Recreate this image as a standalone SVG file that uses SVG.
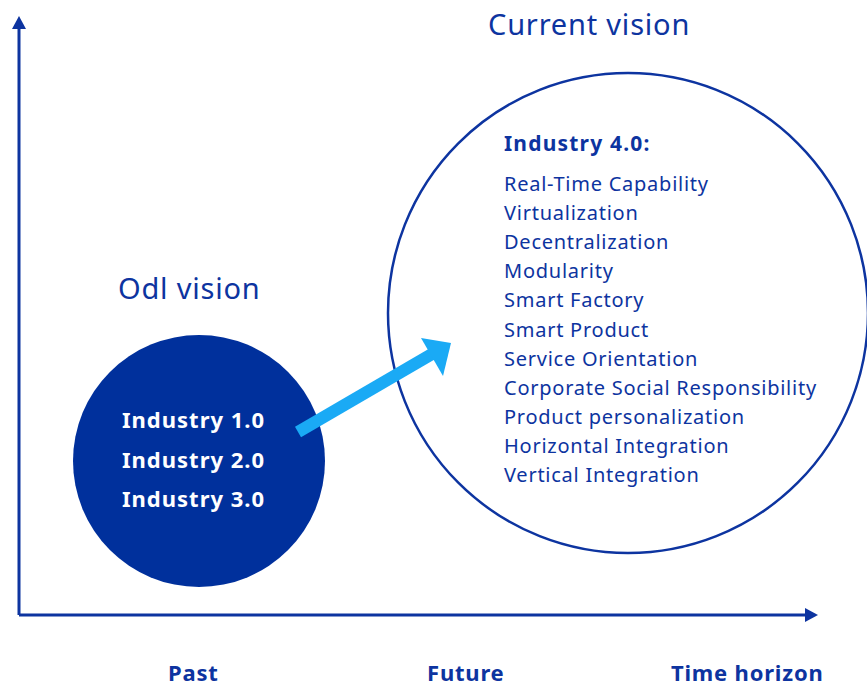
<svg xmlns="http://www.w3.org/2000/svg" width="867" height="686" viewBox="0 0 867 686">
<defs>
<style>
.t{font-family:"Noto Sans","Open Sans",sans-serif;fill:#0d34a0}
.h{font-size:29px;letter-spacing:0.8px}
.b{font-weight:bold}
.li{font-size:20px;letter-spacing:0.75px}
.w{fill:#ffffff;font-size:22px;font-weight:bold;letter-spacing:1px}
.bl{font-size:22px;font-weight:bold;letter-spacing:0.8px}
.ax{stroke:#0d34a0;stroke-width:3;fill:none}
</style>
</defs>
<rect width="867" height="686" fill="#ffffff"/>
<g id="old">
<circle cx="199" cy="461" r="126" fill="#00309c"/>
<text class="t w" x="122" y="428">Industry 1.0</text>
<text class="t w" x="122" y="468">Industry 2.0</text>
<text class="t w" x="122" y="507">Industry 3.0</text>
</g>
<g id="old-label"><text class="t h" x="118" y="299">Odl vision</text></g>
<g id="current-label"><text class="t h" x="488" y="35">Current vision</text></g>
<g id="current">
<circle cx="628" cy="313" r="240" fill="none" stroke="#0d34a0" stroke-width="2.5"/>
<text class="t b" x="504" y="151" font-size="21" letter-spacing="1.2">Industry 4.0:</text>
<g class="t li">
<text x="504" y="191">Real-Time Capability</text>
<text x="504" y="220">Virtualization</text>
<text x="504" y="249">Decentralization</text>
<text x="504" y="278">Modularity</text>
<text x="504" y="307">Smart Factory</text>
<text x="504" y="337">Smart Product</text>
<text x="504" y="366">Service Orientation</text>
<text x="504" y="395">Corporate Social Responsibility</text>
<text x="504" y="424">Product personalization</text>
<text x="504" y="453">Horizontal Integration</text>
<text x="504" y="482">Vertical Integration</text>
</g>
</g>
<g id="axis-labels">
<text class="t bl" x="168" y="681">Past</text>
<text class="t bl" x="427" y="681">Future</text>
<text class="t bl" x="671" y="681">Time horizon</text>
</g>
<g id="connectors">
<line class="ax" x1="19" y1="615" x2="19" y2="28"/>
<polygon points="19,16 12,29 26,29" fill="#0d34a0"/>
<line class="ax" x1="19" y1="615" x2="806" y2="615"/>
<polygon points="818,615 805,608 805,622" fill="#0d34a0"/>
<line x1="298" y1="432" x2="432" y2="354" stroke="#1aaaf5" stroke-width="12"/>
<polygon points="451,343 421,338 443,376" fill="#1aaaf5"/>
</g>
</svg>
